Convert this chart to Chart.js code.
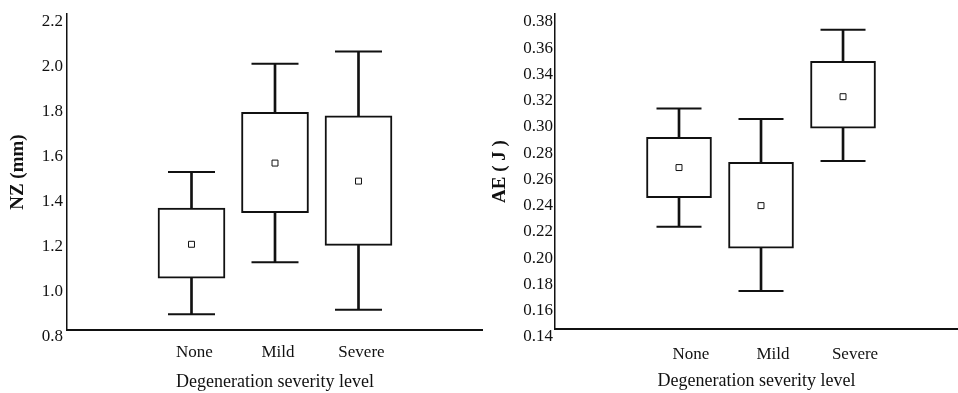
<!DOCTYPE html>
<html lang="en">
<head>
    <meta charset="UTF-8">
    <title>NZ and AE by degeneration severity</title>
    <script src="https://cdn.jsdelivr.net/npm/chart.js"></script>
    <style>
        body { margin: 0; background: #fff; }
        .wrap { position: relative; width: 958px; height: 393px; overflow: hidden; }
        canvas { position: absolute; top: 0; }
        #nzChart { left: 0; }
        #aeChart { left: 479px; }
    </style>
</head>
<body>
    <div class="wrap">
        <canvas id="nzChart" width="483" height="393"></canvas>
        <canvas id="aeChart" width="479" height="393"></canvas>
    </div>
    <script>
        const categories = ['None', 'Mild', 'Severe'];

        // NZ (mm) panel
        const nzWhiskerLow = [0.87, 1.10, 0.89];
        const nzBoxLow = [1.03, 1.32, 1.175];
        const nzBoxHigh = [1.34, 1.765, 1.75];
        const nzWhiskerHigh = [1.50, 1.98, 2.035];
        const nzMean = [1.18, 1.54, 1.46];
        const nzAxis = [0.8, 2.2, 0.2];

        // AE (J) panel
        const aeWhiskerLow = [0.218, 0.169, 0.268];
        const aeBoxLow = [0.240, 0.2015, 0.293];
        const aeBoxHigh = [0.286, 0.267, 0.344];
        const aeWhiskerHigh = [0.308, 0.300, 0.368];
        const aeMean = [0.263, 0.234, 0.317];
        const aeAxis = [0.14, 0.38, 0.02];

        const ink = '#111';
        const serif = "'Liberation Serif', 'DejaVu Serif', serif";

        function boxChart(id, s) {
            const pos = categories.map((c, i) => i + 1);
            const caps = [];
            pos.forEach((x, i) => {
                caps.push({ x: x, y: s.wl[i] });
                caps.push({ x: x, y: s.wh[i] });
            });
            const decimals = String(s.axis[2]).split('.')[1].length;

            return new Chart(document.getElementById(id), {
                type: 'bar',
                data: {
                    datasets: [
                        {
                            type: 'bar',
                            data: pos.map((x, i) => ({ x: x, y: [s.wl[i], s.wh[i]] })),
                            backgroundColor: ink,
                            barThickness: 2,
                            grouped: false,
                            order: 3
                        },
                        {
                            type: 'bar',
                            data: pos.map((x, i) => ({ x: x, y: [s.bl[i], s.bh[i]] })),
                            backgroundColor: '#fff',
                            borderColor: ink,
                            borderWidth: 2,
                            borderSkipped: false,
                            barThickness: s.boxWidth,
                            grouped: false,
                            order: 2
                        },
                        {
                            type: 'line',
                            data: caps,
                            showLine: false,
                            pointStyle: 'line',
                            pointRadius: s.capHalf,
                            pointBorderWidth: 2,
                            pointBorderColor: ink,
                            order: 1
                        },
                        {
                            type: 'line',
                            data: pos.map((x, i) => ({ x: x, y: s.mean[i] })),
                            showLine: false,
                            pointStyle: 'rect',
                            pointRadius: 4.2,
                            pointBackgroundColor: '#fff',
                            pointBorderColor: ink,
                            pointBorderWidth: 1,
                            order: 0
                        }
                    ]
                },
                options: {
                    responsive: false,
                    animation: false,
                    events: [],
                    layout: { autoPadding: false, padding: { top: 14, left: 0, right: 0, bottom: 0 } },
                    plugins: { legend: { display: false }, tooltip: { enabled: false } },
                    scales: {
                        x: {
                            type: 'linear',
                            offset: false,
                            min: s.xMin,
                            max: s.xMax,
                            grid: { display: false, drawTicks: false },
                            border: { display: true, color: ink, width: 2 },
                            ticks: {
                                stepSize: 1,
                                includeBounds: false,
                                autoSkip: false,
                                maxRotation: 0,
                                padding: s.xPad,
                                labelOffset: s.xLabelOffset,
                                color: ink,
                                font: { family: serif, size: 17 },
                                callback: v => categories[v - 1] || ''
                            },
                            title: {
                                display: true,
                                text: 'Degeneration severity level',
                                color: ink,
                                font: { family: serif, size: 18 },
                                padding: { top: 0, bottom: s.xTitlePad }
                            },
                            afterFit: scale => { scale.height = s.xHeight; }
                        },
                        y: {
                            type: 'linear',
                            min: s.axis[0],
                            max: s.axis[1],
                            beginAtZero: false,
                            grid: { display: false, drawTicks: false },
                            border: { display: true, color: ink, width: 1.5 },
                            ticks: {
                                stepSize: s.axis[2],
                                padding: s.yPad,
                                labelOffset: s.yLabelOffset,
                                color: ink,
                                font: { family: serif, size: 17 },
                                callback: v => Number(v).toFixed(decimals)
                            },
                            title: {
                                display: true,
                                text: s.title,
                                color: ink,
                                font: { family: serif, size: 19, weight: 'bold' },
                                padding: { top: s.yTitlePad, bottom: 0 }
                            },
                            afterFit: scale => { scale.width = s.yWidth; }
                        }
                    }
                }
            });
        }

        boxChart('nzChart', {
            wl: nzWhiskerLow, bl: nzBoxLow, bh: nzBoxHigh, wh: nzWhiskerHigh, mean: nzMean,
            axis: nzAxis, title: 'NZ (mm)',
            boxWidth: 67, capHalf: 23.5,
            xMin: -0.491, xMax: 4.491, xHeight: 63, xPad: 12, xLabelOffset: 3, xTitlePad: 0,
            yWidth: 67, yPad: 4, yLabelOffset: 7, yTitlePad: 7
        });

        boxChart('aeChart', {
            wl: aeWhiskerLow, bl: aeBoxLow, bh: aeBoxHigh, wh: aeWhiskerHigh, mean: aeMean,
            axis: aeAxis, title: 'AE ( J )',
            boxWidth: 65, capHalf: 22.5,
            xMin: -0.512, xMax: 4.402, xHeight: 64, xPad: 15, xLabelOffset: 12, xTitlePad: 1,
            yWidth: 76, yPad: 2, yLabelOffset: 8, yTitlePad: 10
        });
    </script>
</body>
</html>
